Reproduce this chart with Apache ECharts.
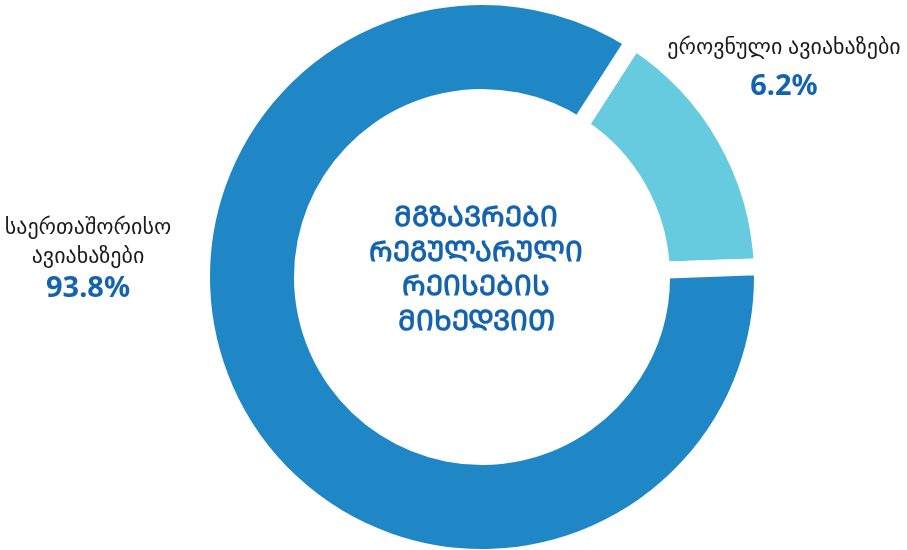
<!DOCTYPE html>
<html><head><meta charset="utf-8">
<script src="https://cdn.jsdelivr.net/npm/echarts@6/dist/echarts.min.js"></script>
<style>html,body{margin:0;padding:0;background:#fff}#c{width:907px;height:550px}</style>
</head><body><div id="c"></div>
<script>
// Data
const categories = ['ეროვნული ავიახაზები', 'საერთაშორისო\nავიახაზები'];
const percentLabels = ['6.2%', '93.8%'];
// share of the ring each arc occupies as drawn in the reference
const arcShares = [15.3, 84.7];
const sliceColors = ['#66CBDF', '#1F87C6'];
const centerLines = [
  '\u1C9B\u1C92\u1C96\u1C90\u1C95\u1CA0\u1C94\u1C91\u1C98',
  '\u1CA0\u1C94\u1C92\u1CA3\u1C9A\u1C90\u1CA0\u1CA3\u1C9A\u1C98',
  '\u1CA0\u1C94\u1C98\u1CA1\u1C94\u1C91\u1C98\u1CA1',
  '\u1C9B\u1C98\u1CAE\u1C94\u1C93\u1C95\u1C98\u1C97'
];

const FONT = "'Noto Sans', 'DejaVu Sans', sans-serif";
const chart = echarts.init(document.getElementById('c'), null, {renderer: 'canvas'});
chart.setOption({
  animation: false,
  backgroundColor: '#fff',
  graphic: [{
    type: 'text',
    x: 476, y: 270,
    style: {
      text: centerLines.join('\n'),
      fill: '#1463B0',
      font: "bold 28px " + FONT,
      lineHeight: 34.5,
      align: 'center',
      verticalAlign: 'middle'
    }
  }],
  series: [{
    type: 'pie',
    center: [482, 277],
    radius: [179.5, 280.5],
    startAngle: 57.2,
    clockwise: true,
    silent: true,
    avoidLabelOverlap: false,
    itemStyle: {borderColor: '#fff', borderWidth: 17},
    data: categories.map((n, i) => ({name: n, value: arcShares[i], itemStyle: {color: sliceColors[i]}})),
    label: {
      show: true,
      position: 'outside',
      align: 'center',
      overflow: 'none',
      bleedMargin: 0,
      formatter: p => '{n|' + p.name.split('\n').join('}\n{n|') + '}\n{' + (p.dataIndex === 0 ? 'v' : 'w') + '|' + percentLabels[p.dataIndex] + '}',
      rich: {
        n: {fontFamily: FONT, fontSize: 22, color: '#1a1a1a', lineHeight: 29, align: 'center'},
        v: {fontFamily: FONT, fontSize: 29, fontWeight: 'bold', color: '#1463B0', lineHeight: 49, align: 'center'},
        w: {fontFamily: FONT, fontSize: 29, fontWeight: 'bold', color: '#1463B0', lineHeight: 35, align: 'center'}
      }
    },
    labelLine: {show: false},
    labelLayout: p => p.dataIndex === 0
      ? {x: 784, y: 72.5, align: 'center', verticalAlign: 'middle'}
      : {x: 88, y: 260, align: 'center', verticalAlign: 'middle'}
  }]
});
</script></body></html>
